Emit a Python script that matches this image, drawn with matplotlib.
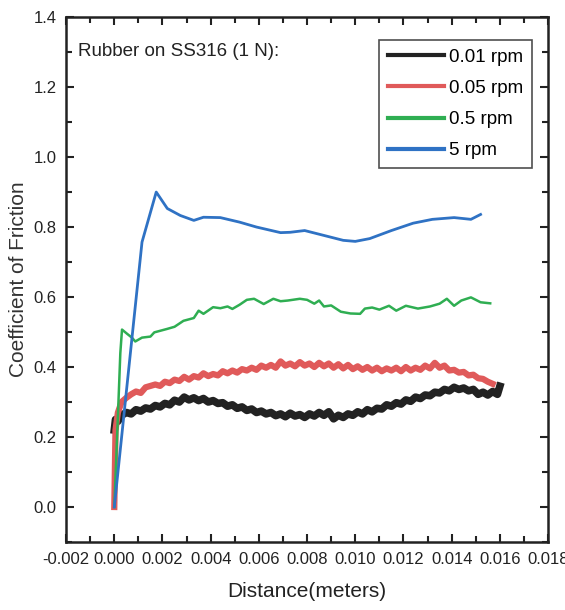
import matplotlib
matplotlib.use("Agg")
import matplotlib.pyplot as plt
from matplotlib.ticker import MultipleLocator

plt.rcParams['font.family'] = ['Liberation Sans Narrow', 'Liberation Sans', 'DejaVu Sans']

# Friction traces, distance in metres
dist_001 = [0.0, 0.00005, 0.00015, 0.0003, 0.0005, 0.0007, 0.0009, 0.0011, 0.0013, 0.0015,
            0.0017, 0.0019, 0.0021, 0.0023, 0.0025, 0.0027, 0.0029, 0.0031, 0.0033, 0.0035,
            0.0037, 0.0039, 0.0041, 0.0043, 0.0045, 0.0047, 0.0049, 0.0051, 0.0053, 0.0055,
            0.0057, 0.0059, 0.0061, 0.0063, 0.0065, 0.0067, 0.0069, 0.0071, 0.0073, 0.0075,
            0.0077, 0.0079, 0.0081, 0.0083, 0.0085, 0.0087, 0.0089, 0.0091, 0.0093, 0.0095,
            0.0097, 0.0099, 0.0101, 0.0103, 0.0105, 0.0107, 0.0109, 0.0111, 0.0113, 0.0115,
            0.0117, 0.0119, 0.0121, 0.0123, 0.0125, 0.0127, 0.0129, 0.0131, 0.0133, 0.0135,
            0.0137, 0.0139, 0.0141, 0.0143, 0.0145, 0.0147, 0.0149, 0.0151, 0.0153, 0.0155,
            0.0157, 0.0159, 0.0160]
cof_001 = [0.22, 0.25, 0.245, 0.262, 0.270, 0.266, 0.278, 0.274, 0.283, 0.280,
           0.290, 0.286, 0.296, 0.292, 0.305, 0.300, 0.314, 0.306, 0.312, 0.304,
           0.310, 0.300, 0.304, 0.296, 0.298, 0.288, 0.292, 0.282, 0.286, 0.276,
           0.280, 0.270, 0.274, 0.266, 0.270, 0.261, 0.266, 0.258, 0.268, 0.260,
           0.264, 0.256, 0.266, 0.260, 0.270, 0.262, 0.272, 0.252, 0.262, 0.256,
           0.266, 0.262, 0.272, 0.266, 0.278, 0.272, 0.282, 0.280, 0.292, 0.288,
           0.298, 0.294, 0.306, 0.302, 0.314, 0.310, 0.320, 0.318, 0.328, 0.326,
           0.336, 0.332, 0.342, 0.336, 0.340, 0.332, 0.336, 0.322, 0.328, 0.320,
           0.330, 0.322, 0.345]

dist_005 = [0.0, 0.00005, 0.00015, 0.0003, 0.0005, 0.0007, 0.0009, 0.0011, 0.0013, 0.0015,
            0.0017, 0.0019, 0.0021, 0.0023, 0.0025, 0.0027, 0.0029, 0.0031, 0.0033, 0.0035,
            0.0037, 0.0039, 0.0041, 0.0043, 0.0045, 0.0047, 0.0049, 0.0051, 0.0053, 0.0055,
            0.0057, 0.0059, 0.0061, 0.0063, 0.0065, 0.0067, 0.0069, 0.0071, 0.0073, 0.0075,
            0.0077, 0.0079, 0.0081, 0.0083, 0.0085, 0.0087, 0.0089, 0.0091, 0.0093, 0.0095,
            0.0097, 0.0099, 0.0101, 0.0103, 0.0105, 0.0107, 0.0109, 0.0111, 0.0113, 0.0115,
            0.0117, 0.0119, 0.0121, 0.0123, 0.0125, 0.0127, 0.0129, 0.0131, 0.0133, 0.0135,
            0.0137, 0.0139, 0.0141, 0.0143, 0.0145, 0.0147, 0.0149, 0.0151, 0.0153, 0.0155,
            0.0157]
cof_005 = [0.0, 0.22, 0.27, 0.300, 0.312, 0.322, 0.330, 0.326, 0.342, 0.346,
           0.350, 0.346, 0.358, 0.354, 0.364, 0.360, 0.372, 0.364, 0.374, 0.370,
           0.382, 0.374, 0.380, 0.376, 0.388, 0.382, 0.390, 0.384, 0.394, 0.390,
           0.398, 0.392, 0.404, 0.398, 0.406, 0.398, 0.416, 0.404, 0.410, 0.402,
           0.414, 0.404, 0.410, 0.400, 0.412, 0.402, 0.410, 0.398, 0.408, 0.396,
           0.406, 0.394, 0.402, 0.392, 0.400, 0.390, 0.398, 0.388, 0.396, 0.390,
           0.398, 0.388, 0.400, 0.390, 0.398, 0.392, 0.404, 0.396, 0.412, 0.398,
           0.404, 0.390, 0.392, 0.384, 0.386, 0.376, 0.378, 0.368, 0.366, 0.358,
           0.352]

dist_05 = [0.0, 0.00015, 0.00025, 0.00032, 0.00053, 0.00073, 0.00087, 0.00115, 0.0015, 0.00166,
           0.0022, 0.0025, 0.00287, 0.0033, 0.0035, 0.0037, 0.0041, 0.0044, 0.0047, 0.0049,
           0.0052, 0.0055, 0.0058, 0.0062, 0.0066, 0.0069, 0.0072, 0.0077, 0.0080, 0.0083,
           0.0085, 0.0087, 0.0090, 0.0094, 0.0098, 0.0102, 0.0104, 0.0107, 0.0110, 0.0114,
           0.0117, 0.0121, 0.0126, 0.0131, 0.0135, 0.0138, 0.0141, 0.0144, 0.0148, 0.0152,
           0.0156]
cof_05 = [0.0, 0.26, 0.44, 0.507, 0.495, 0.484, 0.473, 0.484, 0.487, 0.499,
          0.509, 0.515, 0.532, 0.540, 0.561, 0.552, 0.571, 0.568, 0.573, 0.566,
          0.578, 0.592, 0.595, 0.580, 0.595, 0.588, 0.590, 0.595, 0.592, 0.581,
          0.590, 0.573, 0.576, 0.558, 0.553, 0.552, 0.567, 0.570, 0.564, 0.575,
          0.561, 0.575, 0.567, 0.573, 0.581, 0.595, 0.575, 0.590, 0.599, 0.585,
          0.582]

dist_5 = [0.0, 0.00075, 0.00115, 0.00174, 0.0022, 0.00274, 0.0033, 0.0037, 0.0044, 0.0052,
          0.0059, 0.0069, 0.0073, 0.0079, 0.0087, 0.0095, 0.0100, 0.0106, 0.0115, 0.0124,
          0.0132, 0.0141, 0.0148, 0.0152]
cof_5 = [0.0, 0.494, 0.757, 0.900, 0.853, 0.833, 0.819, 0.828, 0.827, 0.814,
         0.800, 0.784, 0.785, 0.790, 0.776, 0.762, 0.759, 0.767, 0.790, 0.811,
         0.822, 0.827, 0.822, 0.836]

series_labels = ['0.01 rpm', '0.05 rpm', '0.5 rpm', '5 rpm']
x_ticks = [-0.002, 0.000, 0.002, 0.004, 0.006, 0.008, 0.010, 0.012, 0.014, 0.016, 0.018]
y_ticks = [0.0, 0.2, 0.4, 0.6, 0.8, 1.0, 1.2, 1.4]

fig = plt.figure(figsize=(5.65, 6.10), dpi=100)
ax = fig.add_axes([0.117, 0.1115, 0.853, 0.8605])

ax.plot(dist_001, cof_001, color='#222222', lw=5.5, label=series_labels[0])
ax.plot(dist_005, cof_005, color='#e05a5a', lw=4.5, label=series_labels[1])
ax.plot(dist_05, cof_05, color='#2fae52', lw=1.8, label=series_labels[2])
ax.plot(dist_5, cof_5, color='#2f72c4', lw=2.0, label=series_labels[3])

ax.set_xlim(-0.002, 0.018)
ax.set_ylim(-0.1, 1.4)
ax.set_xticks(x_ticks)
ax.set_xticklabels([f'{t:.3f}' for t in x_ticks])
ax.set_yticks(y_ticks)
ax.set_yticklabels([f'{t:.1f}' for t in y_ticks])
ax.xaxis.set_minor_locator(MultipleLocator(0.001))
ax.yaxis.set_minor_locator(MultipleLocator(0.1))
ax.tick_params(which='both', direction='in', top=True, right=True, width=1.5,
               labelsize=12, colors='#222222')
ax.tick_params(which='major', length=6, pad=7)
ax.tick_params(which='minor', length=4)
for sp in ax.spines.values():
    sp.set_linewidth(1.8)
    sp.set_color('#222222')

ax.set_xlabel('Distance(meters)', fontsize=15, color='#222222', labelpad=11)
ax.set_ylabel('Coefficient of Friction', fontsize=15, color='#333333', labelpad=4)

ax.text(0.025, 0.935, 'Rubber on SS316 (1 N):', transform=ax.transAxes, fontsize=13.5,
        color='#222222', ha='left', va='center')

leg = ax.legend(loc='upper right', bbox_to_anchor=(0.967, 0.956), fontsize=13.5,
                frameon=True, fancybox=False, edgecolor='#222222', handlelength=3.0,
                handletextpad=0.3, borderpad=0.45, labelspacing=0.75, borderaxespad=0.0)
leg.get_frame().set_linewidth(1.2)
for h in leg.get_lines():
    h.set_linewidth(3.0)

fig.savefig('out.png', dpi=100)
